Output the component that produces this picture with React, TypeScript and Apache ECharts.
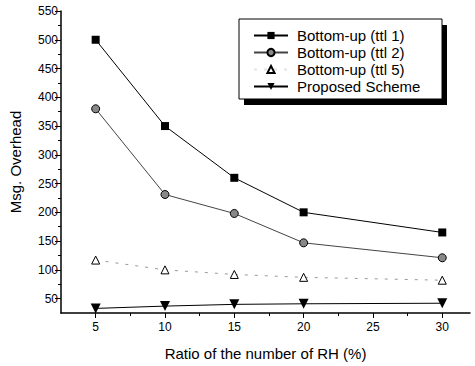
import React, { useEffect, useRef } from "react";
import * as echarts from "echarts";

const xValues = [5, 10, 15, 20, 30];
const ttl1 = [500, 350, 260, 200, 165];
const ttl2 = [380, 231, 198, 147, 121];
const ttl5 = [117, 100, 92, 87, 82];
const proposed = [33, 37, 40, 41, 42];
const seriesNames = ["Bottom-up (ttl 1)", "Bottom-up (ttl 2)", "Bottom-up (ttl 5)", "Proposed Scheme"];
const xTicks = [5, 10, 15, 20, 25, 30];
const xMinorTicks = [7.5, 12.5, 17.5, 22.5, 27.5];
const yTicks = [50, 100, 150, 200, 250, 300, 350, 400, 450, 500, 550];
const yMinorTicks = [75, 125, 175, 225, 275, 325, 375, 425, 475, 525];

const FONT = "'Liberation Sans', Arial, Helvetica, sans-serif";

function pairs(vals: number[]) {
  return xValues.map((x, i) => [x, vals[i]]);
}

export default function App() {
  const ref = useRef<HTMLDivElement>(null);
  useEffect(() => {
    if (!ref.current) return;
    const chart = echarts.init(ref.current, undefined, { renderer: "svg" });
    const xMin = 2.5, xMax = 32, yMin = 25, yMax = 550;
    chart.setOption({
      animation: false,
      backgroundColor: "#fff",
      textStyle: { fontFamily: FONT },
      grid: { left: 60, right: 5, top: 11, bottom: 51 },
      xAxis: [
        {
          type: "value", min: xMin, max: xMax,
          name: "Ratio of the number of RH (%)",
          nameLocation: "middle", nameGap: 33,
          nameTextStyle: { fontSize: 15, color: "#000", fontFamily: FONT },
          axisLine: { show: true, lineStyle: { color: "#000", width: 1.5 } },
          axisTick: { show: true, length: 5, lineStyle: { color: "#000" }, customValues: xTicks },
          axisLabel: { color: "#000", fontSize: 12, fontFamily: FONT, margin: 8, customValues: xTicks },
          splitLine: { show: false },
        },
        {
          type: "value", min: xMin, max: xMax, position: "bottom",
          axisLine: { show: false },
          axisTick: { show: true, length: 3, lineStyle: { color: "#000" }, customValues: xMinorTicks },
          axisLabel: { show: false, customValues: xMinorTicks },
          splitLine: { show: false },
        },
      ],
      yAxis: [
        {
          type: "value", min: yMin, max: yMax,
          name: "Msg. Overhead",
          nameLocation: "middle", nameGap: 38,
          nameTextStyle: { fontSize: 15, color: "#000", fontFamily: FONT },
          axisLine: { show: true, lineStyle: { color: "#000", width: 1.5 } },
          axisTick: { show: true, length: 6, lineStyle: { color: "#000" }, customValues: yTicks },
          axisLabel: { color: "#000", fontSize: 12, fontFamily: FONT, margin: 3, customValues: yTicks },
          splitLine: { show: false },
        },
        {
          type: "value", min: yMin, max: yMax, position: "left",
          axisLine: { show: false },
          axisTick: { show: true, length: 3, lineStyle: { color: "#000" }, customValues: yMinorTicks },
          axisLabel: { show: false, customValues: yMinorTicks },
          splitLine: { show: false },
        },
      ],
      legend: {
        orient: "vertical",
        left: 253, top: 28,
        padding: 0,
        itemWidth: 34, itemHeight: 9, itemGap: 2,
        z: 20,
        textStyle: { fontSize: 15, color: "#000", fontFamily: FONT, padding: [0, 0, 0, 4] },
        data: [
          { name: seriesNames[0] },
          { name: seriesNames[1] },
          { name: seriesNames[2], lineStyle: { opacity: 0.25 } },
          { name: seriesNames[3] },
        ],
      },
      graphic: [
        { type: "rect", z: 1, shape: { x: 244, y: 25, width: 203, height: 80 }, style: { fill: "#000" } },
        { type: "rect", z: 2, shape: { x: 239, y: 19, width: 203, height: 80 }, style: { fill: "#fff", stroke: "#000", lineWidth: 1 } },
      ],
      series: [
        {
          name: seriesNames[0], type: "line", data: pairs(ttl1),
          symbol: "rect", symbolSize: 8,
          lineStyle: { color: "#000", width: 1 },
          itemStyle: { color: "#000" },
        },
        {
          name: seriesNames[1], type: "line", data: pairs(ttl2),
          symbol: "circle", symbolSize: 8,
          lineStyle: { color: "#444", width: 1 },
          itemStyle: { color: "#888", borderColor: "#000", borderWidth: 1 },
        },
        {
          name: seriesNames[2], type: "line", data: pairs(ttl5),
          symbol: "triangle", symbolSize: 8,
          lineStyle: { color: "#999", width: 1, type: [3, 7] },
          itemStyle: { color: "#fff", borderColor: "#000", borderWidth: 1 },
        },
        {
          name: seriesNames[3], type: "line", data: pairs(proposed),
          symbol: "triangle", symbolRotate: 180, symbolSize: 10,
          lineStyle: { color: "#000", width: 1 },
          itemStyle: { color: "#000" },
        },
      ],
    });
    return () => chart.dispose();
  }, []);
  return (
    <div
      ref={ref}
      style={{ position: "fixed", left: 0, top: 0, width: 475, height: 366, background: "#fff" }}
    />
  );
}
